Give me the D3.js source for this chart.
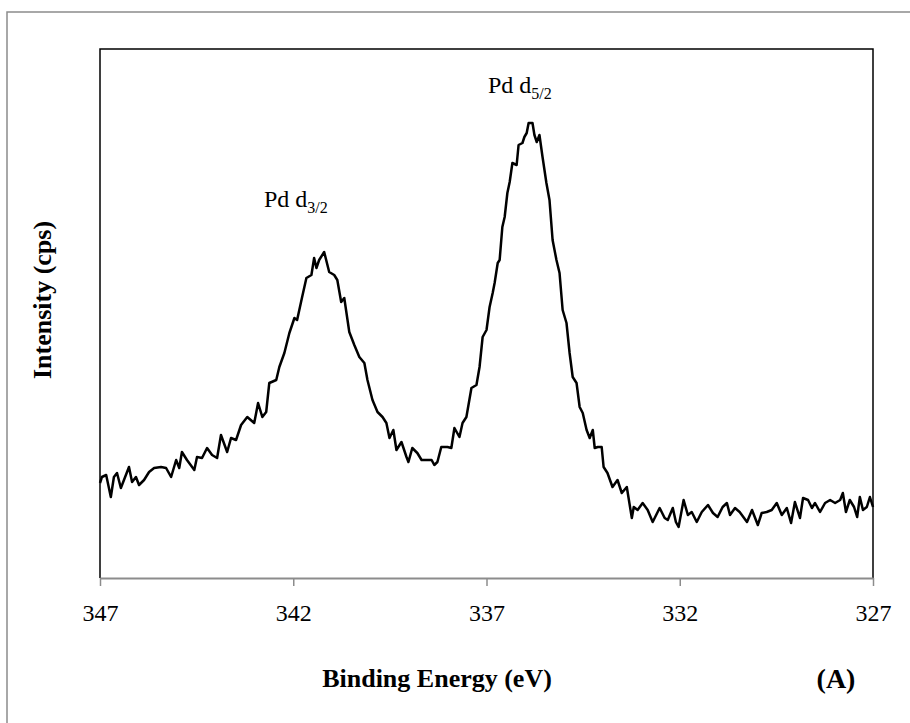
<!DOCTYPE html>
<html>
<head>
<meta charset="utf-8">
<script src="https://cdn.jsdelivr.net/npm/d3@7"></script>
<style>
  body { margin: 0; background: #fff; }
  text { font-family: "Liberation Serif", "Times New Roman", serif; fill: #000; }
</style>
</head>
<body>
<svg id="svg1" width="910" height="723"></svg>
<script>
// binding energy (eV)
var bindingEnergy = [
  347.00, 346.95, 346.84, 346.72, 346.64, 346.56, 346.46, 346.38, 346.25, 346.17,
  346.07, 345.99, 345.86, 345.73, 345.60, 345.42, 345.29, 345.16, 345.03, 344.95,
  344.88, 344.75, 344.56, 344.49, 344.36, 344.23, 344.10, 343.97, 343.87, 343.71,
  343.61, 343.48, 343.35, 343.19, 343.01, 342.91, 342.80, 342.70, 342.62, 342.44,
  342.36, 342.23, 342.10, 341.97, 341.90, 341.77, 341.66, 341.53, 341.46, 341.40,
  341.33, 341.20, 341.07, 340.94, 340.86, 340.76, 340.68, 340.55, 340.42, 340.29,
  340.16, 340.08, 339.95, 339.82, 339.69, 339.59, 339.51, 339.41, 339.33, 339.20,
  339.07, 339.02, 338.92, 338.79, 338.68, 338.55, 338.42, 338.35, 338.27, 338.17,
  338.01, 337.91, 337.83, 337.70, 337.62, 337.52, 337.39, 337.26, 337.18, 337.10,
  337.00, 336.92, 336.84, 336.79, 336.71, 336.66, 336.59, 336.53, 336.46, 336.40,
  336.33, 336.22, 336.17, 336.07, 336.02, 335.96, 335.91, 335.81, 335.76, 335.70,
  335.63, 335.55, 335.45, 335.37, 335.29, 335.19, 335.11, 335.03, 334.93, 334.85,
  334.77, 334.67, 334.59, 334.51, 334.41, 334.33, 334.25, 334.20, 334.12, 334.02,
  333.97, 333.87, 333.74, 333.61, 333.50, 333.37, 333.24, 333.19, 333.09, 332.96,
  332.83, 332.70, 332.52, 332.39, 332.31, 332.18, 332.10, 332.03, 331.90, 331.79,
  331.69, 331.56, 331.43, 331.27, 331.14, 331.02, 330.89, 330.78, 330.70, 330.57,
  330.45, 330.26, 330.13, 329.98, 329.88, 329.75, 329.62, 329.49, 329.36, 329.23,
  329.12, 329.02, 328.89, 328.81, 328.68, 328.58, 328.50, 328.37, 328.24, 328.11,
  327.98, 327.85, 327.78, 327.70, 327.60, 327.49, 327.41, 327.34, 327.26, 327.16,
  327.08, 327.00
];

// intensity (cps), arbitrary units as the axis carries no numbers
var intensity = [
   980, 1040, 1060,  840, 1040, 1080,  930, 1010, 1140,  990,
  1040,  960, 1010, 1090, 1130, 1140, 1130, 1040, 1210, 1130,
  1290, 1210, 1110, 1240, 1230, 1330, 1260, 1230, 1460, 1290,
  1430, 1410, 1560, 1640, 1580, 1780, 1640, 1690, 1980, 2010,
  2140, 2280, 2480, 2630, 2610, 2840, 3030, 3060, 3230, 3130,
  3210, 3290, 3090, 3060, 3010, 2790, 2830, 2490, 2360, 2240,
  2180, 2010, 1810, 1690, 1640, 1580, 1430, 1510, 1310, 1390,
  1240, 1190, 1330, 1280, 1210, 1210, 1210, 1160, 1190, 1340,
  1340, 1330, 1530, 1440, 1580, 1640, 1930, 1960, 2140, 2440,
  2510, 2740, 2880, 2980, 3180, 3210, 3540, 3640, 3880, 3990,
  4180, 4160, 4360, 4380, 4440, 4480, 4580, 4580, 4460, 4390,
  4460, 4240, 3980, 3810, 3410, 3210, 3080, 2710, 2580, 2280,
  2040, 1980, 1740, 1680, 1510, 1430, 1510, 1330, 1340, 1340,
  1140, 1080,  940, 1010,  880,  940,  630,  740,  710,  780,
   710,  590,  730,  630,  610,  730,  590,  540,  810,  660,
   690,  590,  690,  760,  680,  640,  740,  780,  660,  730,
   690,  590,  710,  560,  680,  690,  710,  780,  660,  730,
   580,  790,  630,  830,  810,  730,  780,  690,  780,  810,
   780,  810,  880,  690,  810,  740,  640,  840,  710,  740,
   840,  740
];

var xTicks = [347, 342, 337, 332, 327];

var marginLeft = 100, marginTop = 49;
var plotW = 773, plotH = 529;

var svg = d3.select('#svg1');

// outer frame of the figure
svg.append('rect')
    .attr('x', 7).attr('y', 12)
    .attr('width', 1000).attr('height', 1000)
    .attr('fill', 'none')
    .attr('stroke', '#8c8c8c')
    .attr('stroke-width', 1.5);

var g = svg.append('g')
    .attr('transform', 'translate(' + marginLeft + ',' + marginTop + ')');

var x = d3.scaleLinear().domain([347, 327]).range([0, plotW]);
var y = d3.scaleLinear().domain([30, 5320]).range([plotH, 0]);

// plot box, top/left/right black
g.append('path')
    .attr('d', 'M0,' + plotH + 'V0H' + plotW + 'V' + plotH)
    .attr('fill', 'none')
    .attr('stroke', '#000')
    .attr('stroke-width', 1.5);

// x axis in grey with ticks below
var xAxis = g.append('g')
    .attr('transform', 'translate(0,' + plotH + ')')
    .call(d3.axisBottom(x).tickValues(xTicks).tickSize(8).tickSizeOuter(0).tickFormat(d3.format('d')));
xAxis.select('.domain').attr('stroke', '#8c8c8c').attr('stroke-width', 2);
xAxis.selectAll('.tick line').attr('stroke', '#8c8c8c').attr('stroke-width', 1.5);
xAxis.selectAll('.tick text')
    .attr('y', 43)
    .attr('dy', 0)
    .style('font-family', '"Liberation Serif", serif')
    .style('font-size', '24px')
    .attr('fill', '#000');

var pts = bindingEnergy.map(function(d, i) { return [d, intensity[i]]; });

var line = d3.line()
    .x(function(d) { return x(d[0]); })
    .y(function(d) { return y(d[1]); });

g.append('path')
    .datum(pts)
    .attr('d', line)
    .attr('fill', 'none')
    .attr('stroke', '#000')
    .attr('stroke-width', 2.5)
    .attr('stroke-linejoin', 'round');

// peak labels
function peakLabel(tx, ty, sub) {
    var t = svg.append('text')
        .attr('x', tx).attr('y', ty)
        .style('font-size', '24px');
    t.append('tspan').text('Pd d');
    t.append('tspan').attr('dy', 6).style('font-size', '16px').text(sub);
}
peakLabel(264, 207, '3/2');
peakLabel(488, 93, '5/2');

// axis titles
svg.append('text')
    .attr('x', 437).attr('y', 687)
    .attr('text-anchor', 'middle')
    .style('font-size', '26px')
    .style('font-weight', 'bold')
    .text('Binding Energy (eV)');

svg.append('text')
    .attr('transform', 'translate(51,300) rotate(-90)')
    .attr('text-anchor', 'middle')
    .style('font-size', '26px')
    .style('font-weight', 'bold')
    .text('Intensity (cps)');

svg.append('text')
    .attr('x', 836).attr('y', 688)
    .attr('text-anchor', 'middle')
    .style('font-size', '28px')
    .style('font-weight', 'bold')
    .text('(A)');
</script>
</body>
</html>
